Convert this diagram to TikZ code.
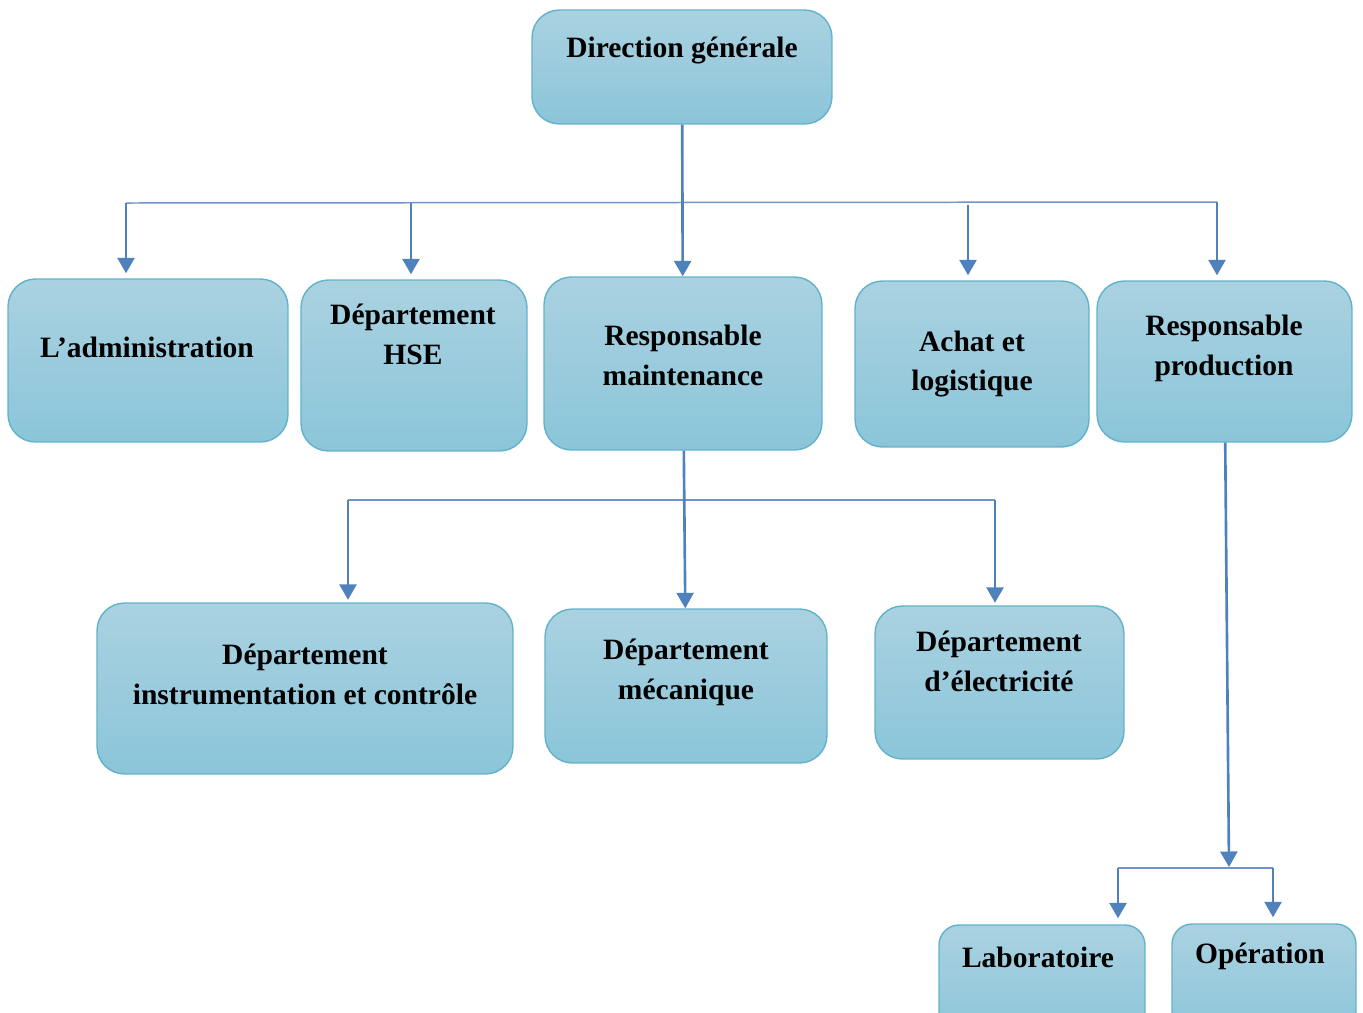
\documentclass[tikz,border=0pt]{standalone}
\usepackage{fontspec}
\setmainfont{Liberation Serif}
\usetikzlibrary{arrows.meta}
\definecolor{boxtop}{HTML}{AAD2E1}
\definecolor{boxbot}{HTML}{8BC5D9}
\definecolor{boxline}{HTML}{62B2CB}
\definecolor{arrblue}{HTML}{4F81BD}
\definecolor{barblue}{HTML}{7093C9}
\begin{document}
\begin{tikzpicture}[
  x=0.02cm, y=-0.02cm,
  box/.style={draw=boxline, line width=0.8pt, rounded corners=0.55cm, top color=boxtop, bottom color=boxbot, inner sep=0pt},
  txt/.style={font=\fontsize{16.8}{22.7}\selectfont\bfseries, align=center, inner sep=0pt},
  arr/.style={-{Triangle[width=0.34cm,length=0.31cm]}, color=arrblue, line width=1.5pt},
  bar/.style={draw=barblue, line width=0.85pt}
]
\useasboundingbox (0,0) rectangle (1363,1012);

% boxes
\node[box, minimum width=6cm, minimum height=2.28cm] (dg) at (682,67) {};
\node[box, minimum width=5.6cm, minimum height=3.26cm] (adm) at (148,360.5) {};
\node[box, minimum width=4.52cm, minimum height=3.42cm] (hse) at (414,365.5) {};
\node[box, minimum width=5.56cm, minimum height=3.46cm] (rm) at (683,363.5) {};
\node[box, minimum width=4.68cm, minimum height=3.32cm] (achat) at (972,364) {};
\node[box, minimum width=5.1cm, minimum height=3.22cm] (rp) at (1224.5,361.5) {};
\node[box, minimum width=8.32cm, minimum height=3.42cm] (dic) at (305,688.5) {};
\node[box, minimum width=5.64cm, minimum height=3.08cm] (dmec) at (686,686) {};
\node[box, minimum width=4.98cm, minimum height=3.06cm] (delec) at (999.5,682.5) {};
\node[box, rounded corners=0.4cm, minimum width=4.12cm, minimum height=2.3cm] (lab) at (1042,982.5) {};
\node[box, rounded corners=0.4cm, minimum width=3.68cm, minimum height=2.32cm] (op) at (1264,982) {};

% texts
\node[txt] (dg-t) at (682,50) {Direction générale};
\node[txt] (adm-t) at (147,347) {L’administration};
\node[txt] (hse-t) at (413,334) {Département\\HSE};
\node[txt] (rm-t) at (683,355) {Responsable\\maintenance};
\node[txt] (achat-t) at (972,364) {Achat et\\logistique};
\node[txt] (rp-t) at (1224,348) {Responsable\\production};
\node[txt] (dic-t) at (305,674) {Département\\instrumentation et contrôle};
\node[txt] (dmec-t) at (686,672) {Département\\mécanique};
\node[txt] (delec-t) at (999,661) {Département\\d’électricité};
\node[txt] (lab-t) at (1038,957) {Laboratoire};
\node[txt] (op-t) at (1260,956) {Opération};

% first level
\coordinate (t1) at (126,203);
\coordinate (t2) at (411,203);
\coordinate (t3) at (968,205);
\coordinate (t4) at (1217,202);
\draw[bar] (t1) -- (t4);
\draw[arr] (dg) -- (rm);
\draw[arr] (t1) -- ([yshift=0.1cm]t1 |- adm.north);
\draw[arr] (t2) -- ([yshift=0.1cm]t2 |- hse.north);
\draw[arr] (t3) -- ([yshift=0.1cm]t3 |- achat.north);
\draw[arr] (t4) -- ([yshift=0.1cm]t4 |- rp.north);

% maintenance
\coordinate (m1) at (348,500);
\coordinate (m2) at (995,500);
\draw[bar] (m1) -- (m2);
\draw[arr] (rm) -- (dmec);
\draw[arr] (m1) -- ([yshift=0.05cm]m1 |- dic.north);
\draw[arr] (m2) -- ([yshift=0.05cm]m2 |- delec.north);

% production
\coordinate (p0) at (1229,867);
\coordinate (p1) at (1118,868);
\coordinate (p2) at (1273,868);
\draw[arr] (rp) -- (p0);
\draw[bar] (p1) -- (p2);
\draw[arr] (p1) -- ([yshift=0.12cm]p1 |- lab.north);
\draw[arr] (p2) -- ([yshift=0.12cm]p2 |- op.north);
\end{tikzpicture}
\end{document}
